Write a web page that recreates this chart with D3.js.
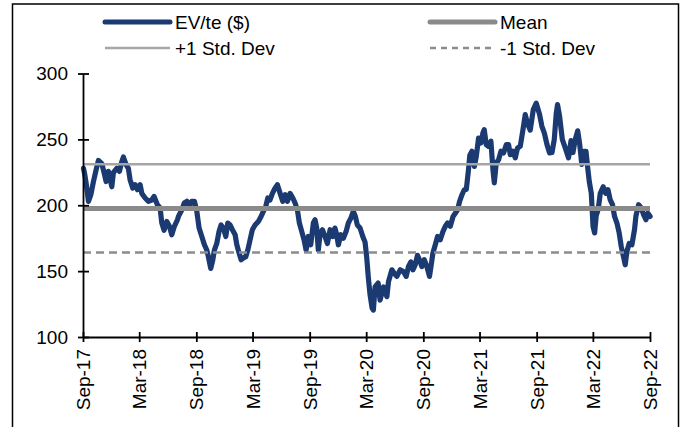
<!DOCTYPE html>
<html>
<head>
<meta charset="utf-8">
<script src="https://cdn.jsdelivr.net/npm/d3@7"></script>
<style>
    body { margin: 0; background: #fff; }
    svg { display: block; font-family: "Liberation Sans", Arial, sans-serif; }
</style>
</head>
<body>
<div id="chart"></div>
<script>
// EV/te ($) series, dates as decimal years
var evYears = [
    2017.670, 2017.680, 2017.693, 2017.714, 2017.735, 2017.758, 2017.782, 2017.802, 2017.832, 2017.852,
    2017.870, 2017.890, 2017.920, 2017.934, 2017.964, 2017.987, 2018.008, 2018.022, 2018.046, 2018.066,
    2018.081, 2018.105, 2018.126, 2018.146, 2018.170, 2018.185, 2018.214, 2018.243, 2018.273, 2018.293,
    2018.322, 2018.346, 2018.361, 2018.381, 2018.405, 2018.428, 2018.449, 2018.472, 2018.499, 2018.508,
    2018.538, 2018.560, 2018.582, 2018.602, 2018.626, 2018.649, 2018.670, 2018.690, 2018.714, 2018.737,
    2018.758, 2018.772, 2018.793, 2018.811, 2018.825, 2018.846, 2018.866, 2018.884, 2018.904, 2018.926,
    2018.943, 2018.963, 2018.984, 2019.008, 2019.023, 2019.043, 2019.061, 2019.081, 2019.102, 2019.120,
    2019.140, 2019.160, 2019.184, 2019.213, 2019.237, 2019.257, 2019.278, 2019.296, 2019.316, 2019.337,
    2019.360, 2019.381, 2019.405, 2019.428, 2019.449, 2019.469, 2019.493, 2019.517, 2019.537, 2019.557,
    2019.575, 2019.596, 2019.616, 2019.634, 2019.654, 2019.675, 2019.698, 2019.713, 2019.728, 2019.742,
    2019.757, 2019.778, 2019.801, 2019.822, 2019.846, 2019.869, 2019.889, 2019.904, 2019.919, 2019.940,
    2019.963, 2019.987, 2020.007, 2020.028, 2020.051, 2020.069, 2020.086, 2020.110, 2020.134, 2020.154,
    2020.169, 2020.183, 2020.198, 2020.216, 2020.227, 2020.242, 2020.269, 2020.286, 2020.316, 2020.346,
    2020.360, 2020.390, 2020.410, 2020.434, 2020.463, 2020.492, 2020.516, 2020.536, 2020.557, 2020.575,
    2020.595, 2020.615, 2020.633, 2020.654, 2020.675, 2020.698, 2020.721, 2020.734, 2020.751, 2020.772,
    2020.792, 2020.816, 2020.839, 2020.860, 2020.880, 2020.904, 2020.928, 2020.948, 2020.968, 2020.986,
    2021.007, 2021.027, 2021.045, 2021.063, 2021.076, 2021.095, 2021.116, 2021.133, 2021.153, 2021.174,
    2021.192, 2021.203, 2021.221, 2021.241, 2021.262, 2021.280, 2021.292, 2021.309, 2021.330, 2021.351,
    2021.374, 2021.398, 2021.418, 2021.433, 2021.457, 2021.477, 2021.497, 2021.521, 2021.545, 2021.565,
    2021.585, 2021.609, 2021.636, 2021.662, 2021.691, 2021.712, 2021.733, 2021.757, 2021.780, 2021.801,
    2021.821, 2021.839, 2021.850, 2021.868, 2021.892, 2021.918, 2021.947, 2021.969, 2021.986, 2022.006,
    2022.028, 2022.046, 2022.064, 2022.081, 2022.101, 2022.118, 2022.130, 2022.148, 2022.163, 2022.177,
    2022.191, 2022.209, 2022.227, 2022.253, 2022.275, 2022.295, 2022.315, 2022.335, 2022.353, 2022.374,
    2022.394, 2022.412, 2022.432, 2022.447, 2022.462, 2022.482, 2022.506, 2022.529, 2022.541, 2022.565,
    2022.589, 2022.609, 2022.630, 2022.647, 2022.667
];
var evValues = [
    228, 224, 217, 203, 208, 218, 227, 234, 231.6, 224.5,
    218, 225.7, 214, 224.7, 228, 225.7, 233, 236.6, 230.8, 228,
    219.4, 213, 215.6, 211.8, 215.6, 209, 205.5, 203, 204, 206.7,
    200.4, 198, 186.5, 181, 187.7, 184, 177.6, 184, 189, 191.5,
    196.6, 201.7, 203, 199, 203, 203, 195.3, 182.7, 176.3, 170,
    166, 161, 152, 158.6, 166, 171, 180, 185, 182.7, 176.3,
    186.5, 185, 181.4, 177.6, 170, 163.7, 158.6, 160, 161, 166,
    173.8, 181.4, 185, 187.7, 191.5, 195.3, 199, 205.5, 204, 209,
    213, 215.6, 209, 203, 208, 203, 209, 205.5, 201.7, 196.6,
    186.5, 180, 173.8, 166, 176.3, 170, 186.5, 189, 182.7, 166,
    177.6, 181.4, 176.3, 171, 181.4, 176.3, 182.7, 177.6, 170, 177.6,
    175, 180, 186.5, 190, 195.3, 191.5, 185, 182.7, 176.3, 172,
    160, 145, 132, 122, 120.5, 138, 141, 128, 138, 130.6,
    142, 151, 148.4, 146, 151, 149.7, 146, 153.5, 157, 151,
    154.8, 162, 158.6, 153.5, 158.6, 153.5, 146, 153.5, 163.7, 170,
    176.3, 173.8, 180, 184, 186.5, 184, 191.5, 194, 196.6, 203,
    208, 211.8, 212, 226, 238, 241, 229.5, 237, 251, 247.3,
    255, 257.4, 246, 244.7, 248.6, 227, 217, 232, 234.6, 241,
    239.7, 246, 246, 238.4, 241, 236, 243.5, 244.7, 257.4, 268.8,
    262, 257, 272.6, 277.5, 269, 259.9, 255, 246, 239.7, 240,
    249.8, 270, 276.4, 267.5, 250, 243.5, 236, 249, 240, 249.8,
    256.5, 246, 231, 241, 241, 227, 218, 209, 184, 179,
    192, 197, 209, 214, 209, 211.8, 204, 200.4, 191.5, 186.5,
    178.9, 168.7, 161, 154.8, 164.9, 171, 170, 181.4, 191.5, 200.4,
    198, 192.8, 189, 194, 191.5
];

var meanValue = 197.6;
var plusOneSd = 231.1;
var minusOneSd = 164.1;

var yTicks = [100, 150, 200, 250, 300];
var xTickLabels = ["Sep-17", "Mar-18", "Sep-18", "Mar-19", "Sep-19", "Mar-20",
                   "Sep-20", "Mar-21", "Sep-21", "Mar-22", "Sep-22"];
var legendNames = ["EV/te ($)", "Mean", "+1 Std. Dev", "-1 Std. Dev"];

function init() {
    var w = 684;
    var h = 427;
    var left = 83, right = 650, top = 73.5, bottom = 337;

    var startDate = new Date(2017, 8, 1);
    var endDate = new Date(2022, 8, 1);

    // decimal year -> Date
    function toDate(y) {
        var yr = Math.floor(y);
        var s = new Date(yr, 0, 1), e = new Date(yr + 1, 0, 1);
        return new Date(+s + (y - yr) * (e - s));
    }

    var dataset = evYears.map(function(y, i) {
        return { date: toDate(y), value: evValues[i] };
    });

    var xScale = d3.scaleTime()
        .domain([startDate, endDate])
        .range([left, right]);

    var yScale = d3.scaleLinear()
        .domain([100, 300])
        .range([bottom, top]);

    var svg = d3.select("#chart")
        .append("svg")
        .attr("width", w)
        .attr("height", h);

    // outer frame
    svg.append("rect")
        .attr("x", 12.5)
        .attr("y", 4)
        .attr("width", 666)
        .attr("height", 460)
        .attr("fill", "none")
        .attr("stroke", "#000")
        .attr("stroke-width", 1.5);

    // EV/te line
    var line = d3.line()
        .x(function(d) { return xScale(d.date); })
        .y(function(d) { return yScale(d.value); });

    svg.append("path")
        .datum(dataset)
        .attr("d", line)
        .attr("fill", "none")
        .attr("stroke", "#1c3a72")
        .attr("stroke-width", 5.2)
        .attr("stroke-linejoin", "round")
        .attr("stroke-linecap", "round");

    // reference lines
    function hline(v, color, width, dash) {
        svg.append("line")
            .attr("x1", xScale(startDate))
            .attr("x2", xScale(endDate))
            .attr("y1", yScale(v))
            .attr("y2", yScale(v))
            .attr("stroke", color)
            .attr("stroke-width", width)
            .attr("stroke-dasharray", dash);
    }
    hline(plusOneSd, "#a6a6a6", 2.5, null);
    hline(meanValue, "#8a8a8a", 5, null);
    hline(minusOneSd, "#8c8c8c", 2.5, "8 5");

    // axes
    var yAxis = d3.axisLeft(yScale)
        .tickValues(yTicks)
        .tickSizeInner(5)
        .tickSizeOuter(0)
        .tickPadding(10);

    var gy = svg.append("g")
        .attr("transform", "translate(" + left + ",0)")
        .call(yAxis);
    gy.selectAll(".tick line").attr("x2", 6).attr("x1", -5).attr("stroke-width", 1.8);
    gy.select(".domain").attr("stroke-width", 1.8);
    gy.selectAll("text").attr("font-size", 19).attr("fill", "#000")
        .style("font-family", "'Liberation Sans', Arial, sans-serif");

    var xTickDates = xTickLabels.map(function(d, i) {
        return d3.timeMonth.offset(startDate, 6 * i);
    });
    var xAxis = d3.axisBottom(xScale)
        .tickValues(xTickDates)
        .tickFormat(function(d, i) { return xTickLabels[i]; })
        .tickSizeInner(5)
        .tickSizeOuter(0);

    var gx = svg.append("g")
        .attr("transform", "translate(0," + bottom + ")")
        .call(xAxis);
    gx.selectAll(".tick line").attr("y1", -5).attr("y2", 5).attr("stroke-width", 1.8);
    gx.select(".domain").attr("stroke-width", 1.8);
    gx.selectAll("text")
        .attr("transform", "rotate(-90)")
        .attr("x", -12)
        .attr("y", 0)
        .attr("dy", "0.35em")
        .attr("text-anchor", "end")
        .attr("font-size", 19)
        .attr("fill", "#000")
        .style("font-family", "'Liberation Sans', Arial, sans-serif");

    // legend
    var legendItems = [
        { name: legendNames[0], x: 105, y: 22, color: "#1c3a72", width: 5, dash: null },
        { name: legendNames[1], x: 430, y: 22, color: "#8a8a8a", width: 5, dash: null },
        { name: legendNames[2], x: 105, y: 48, color: "#a6a6a6", width: 2.5, dash: null },
        { name: legendNames[3], x: 430, y: 48, color: "#8c8c8c", width: 2.5, dash: "6 5" }
    ];
    var lg = svg.append("g").selectAll("g")
        .data(legendItems)
        .enter().append("g");
    lg.append("line")
        .attr("x1", function(d) { return d.x; })
        .attr("x2", function(d) { return d.x + 65; })
        .attr("y1", function(d) { return d.y; })
        .attr("y2", function(d) { return d.y; })
        .attr("stroke", function(d) { return d.color; })
        .attr("stroke-width", function(d) { return d.width; })
        .attr("stroke-linecap", function(d) { return d.width > 4 ? "round" : "butt"; })
        .attr("stroke-dasharray", function(d) { return d.dash; });
    lg.append("text")
        .attr("x", function(d) { return d.x + 70; })
        .attr("y", function(d) { return d.y; })
        .attr("dy", "0.35em")
        .attr("font-size", 19)
        .text(function(d) { return d.name; });
}

init();
</script>
</body>
</html>
